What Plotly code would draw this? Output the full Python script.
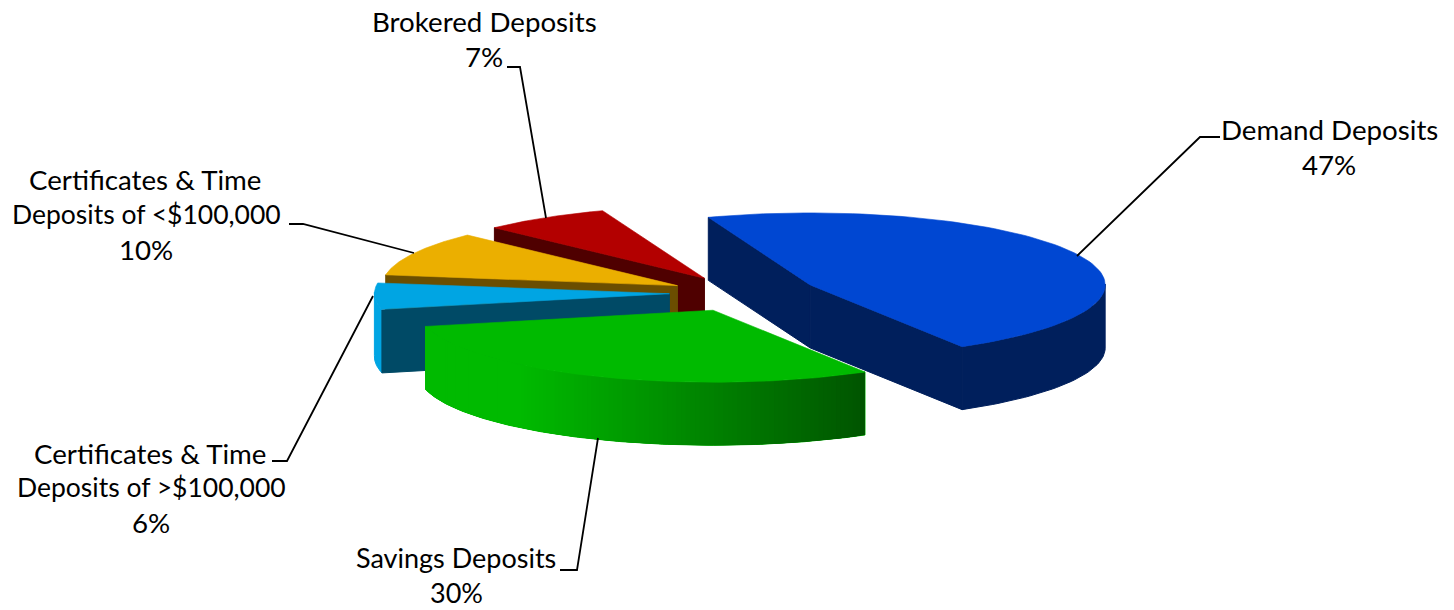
import numpy as np
import plotly.graph_objects as go

categories = ["Demand Deposits", "Savings Deposits", "Certificates & Time Deposits of >$100,000",
              "Certificates & Time Deposits of <$100,000", "Brokered Deposits"]
values = [47, 30, 6, 10, 7]
percent_labels = ["47%", "30%", "6%", "10%", "7%"]

# label layout: lines with their centre positions and font sizes
label_lines = [
    ("Demand Deposits", 1329, 129, 27.7), ("47%", 1329, 164, 27.7),
    ("Savings Deposits", 456, 557.5, 27), ("30%", 456, 592.5, 27),
    ("Certificates & Time", 150, 453, 27.7), ("Deposits of >$100,000", 151, 487, 26.5), ("6%", 151, 522, 27.7),
    ("Certificates & Time", 145, 179, 27.7), ("Deposits of <$100,000", 146, 214, 26.5), ("10%", 146, 249, 27.7),
    ("Brokered Deposits", 484, 21, 27.7), ("7%", 484, 56, 27.7),
]
leaders = [
    ([1220, 1200, 1077], [137, 137, 256]),
    ([560, 577, 598], [570, 570, 438]),
    ([272, 287, 373], [461, 461, 296]),
    ([289, 303, 414], [224, 224, 253]),
    ([507, 520, 546], [67, 67, 218]),
]

CX, CY = 741, 293      # pie centre
RX, RY = 295, 72       # tilted disc radii
EXPLODE = 0.26
DEPTH = 63
START = 110.2
nudge_x = [0, 2, 5, 5, 5]        # perspective shift per slice
nudge_y = [0, 0, 0, 1, 1]

top_colors = ["#0047D2", "#00BA00", "#00A5E3", "#EBAF00", "#B30000"]
edge_colors = ["#001F5C", "#005500", "#004A66", "#6B4E00", "#4F0000"]
rim_left = ["#001F5C", "#00BA00", "#00A5E3", "#6B4E00", "#4F0000"]
rim_right = ["#001F5C", "#005500", "#00A5E3", "#6B4E00", "#4F0000"]
DRAW_ORDER = [4, 3, 2, 0, 1]


def hex2rgb(h):
    return np.array([int(h[i:i + 2], 16) for i in (1, 3, 5)], float)


def mix(a, b, t):
    c = hex2rgb(a) * (1 - t) + hex2rgb(b) * t
    return "rgb(%d,%d,%d)" % tuple(c.round())


def poly(fig, xs, ys, color, width=0.6):
    fig.add_trace(go.Scatter(x=list(xs) + [xs[0]], y=list(ys) + [ys[0]], mode="lines", fill="toself",
                             fillcolor=color, line=dict(color=color, width=width),
                             hoverinfo="skip", showlegend=False))


def pt(ax, ay, deg):
    r = np.radians(deg)
    return ax + RX * np.cos(r), ay - RY * np.sin(r)


def band(ax, ay, degs):
    top = [pt(ax, ay, d) for d in degs]
    xs = [p[0] for p in top] + [p[0] for p in top[::-1]]
    ys = [p[1] for p in top] + [p[1] + DEPTH for p in top[::-1]]
    return xs, ys


fig = go.Figure()

# slice angle ranges from the values
total = sum(values)
angles = []
a = START
for v in values:
    b = a - 360 * v / total
    angles.append((a, b))
    a = b

for i in DRAW_ORDER:
    a1, a2 = angles[i]
    mid = np.radians((a1 + a2) / 2)
    ax = CX + EXPLODE * RX * np.cos(mid) + nudge_x[i]
    ay = CY - EXPLODE * RY * np.sin(mid) + nudge_y[i]
    # outer rim, front half only
    deg = np.linspace(a1, a2, 120)
    deg = deg[np.sin(np.radians(deg)) < 0.02]
    if len(deg) > 1:
        xs, ys = band(ax, ay, deg)
        poly(fig, xs, ys, rim_left[i], width=1)
        if rim_left[i] != rim_right[i]:
            x0 = min(pt(ax, ay, d)[0] for d in deg)
            x1 = max(pt(ax, ay, d)[0] for d in deg)
            # gradient: each band runs on under the next, so no seams show
            for k in range(len(deg) - 1):
                t = (pt(ax, ay, deg[k])[0] - x0) / max(x1 - x0, 1)
                t = max(0.0, (t - 0.22) / 0.78)
                xs, ys = band(ax, ay, deg[k:k + 4])
                poly(fig, xs, ys, mix(rim_left[i], rim_right[i], t), width=0)
    # radial walls that face the viewer
    for edge, normal in ((a1, a1 + 90), (a2, a2 - 90)):
        if np.sin(np.radians(normal)) < 0:
            ex, ey = pt(ax, ay, edge)
            poly(fig, [ax, ex, ex, ax], [ay, ey, ey + DEPTH, ay + DEPTH], edge_colors[i], width=1)
    # top face
    deg = np.linspace(a1, a2, 90)
    tx, ty = zip(*[pt(ax, ay, d) for d in deg])
    poly(fig, [ax] + list(tx), [ay] + list(ty), top_colors[i])

for lx, ly in leaders:
    fig.add_trace(go.Scatter(x=lx, y=ly, mode="lines", line=dict(color="black", width=1.8),
                             hoverinfo="skip", showlegend=False))

for text, x, y, size in label_lines:
    fig.add_annotation(x=x, y=y, text=text, showarrow=False, xanchor="center", yanchor="middle",
                       font=dict(family="Lato", size=size, color="black"))

fig.update_layout(width=1454, height=610, margin=dict(l=0, r=0, t=0, b=0),
                  paper_bgcolor="white", plot_bgcolor="white", showlegend=False,
                  xaxis=dict(range=[0, 1454], visible=False, fixedrange=True),
                  yaxis=dict(range=[610, 0], visible=False, fixedrange=True))
fig.write_html("out.html", config={"displayModeBar": False},
               post_script="document.body.style.margin='0';document.documentElement.style.overflow='hidden';")
